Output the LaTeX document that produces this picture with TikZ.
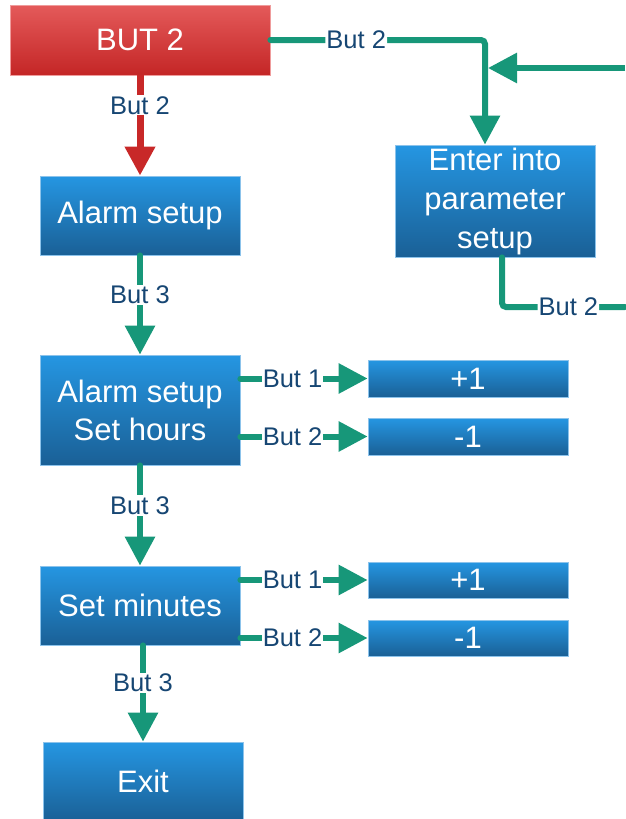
\documentclass[tikz,border=0pt]{standalone}
\usepackage{fontspec}
\setmainfont{Liberation Sans}
\usetikzlibrary{positioning, arrows.meta}
\definecolor{bxTop}{RGB}{37, 150, 226}
\definecolor{bxBot}{RGB}{26, 96, 150}
\definecolor{bxEdge}{RGB}{140, 195, 235}
\definecolor{rdTop}{RGB}{228, 90, 90}
\definecolor{rdBot}{RGB}{196, 38, 38}
\definecolor{rdLine}{RGB}{200, 40, 40}
\definecolor{gnLine}{RGB}{23, 151, 121}
\definecolor{lbText}{RGB}{22, 70, 115}
\tikzset{
    base/.style={
        font=\fontsize{31}{38}\selectfont,
        align=center,
        text=white,
        inner sep=0pt
    },
    stage/.style={
        base,
        rectangle,
        top color=bxTop,
        bottom color=bxBot,
        draw=bxEdge,
        line width=0.8pt,
        minimum width=200pt
    },
    trigger/.style={
        stage,
        top color=rdTop,
        bottom color=rdBot,
        draw=rdTop!60!white,
        minimum width=260pt
    },
    flow/.style={
        -{Triangle[length=29pt, width=29pt]},
        line width=6pt,
        color=gnLine,
        line cap=round
    },
    redflow/.style={
        flow,
        color=rdLine,
        line width=7pt,
        line cap=butt
    },
    btnlabel/.style={
        font=\fontsize{25.5}{27}\selectfont,
        text=lbText,
        fill=white,
        inner sep=1pt
    }
}

\begin{document}
\begin{tikzpicture}[x=1pt, y=-1pt]
  \useasboundingbox (0,0) rectangle (625,819);

  % Main column
  \node[trigger, minimum height=70pt] (but2) at (140,40) {BUT 2};
  \node[stage, minimum height=79pt] (alarm) at (140,215.5) {Alarm setup};
  \node[stage, minimum height=110pt] (hours) at (140,410) {Alarm setup\\Set hours};
  \node[stage, minimum height=79pt] (minutes) at (140,605.5) {Set minutes};
  \node[stage, minimum height=79pt] (exit) at (143,781.5) {Exit};

  % Parameter setup
  \node[stage, minimum height=112pt, font=\fontsize{31}{39}\selectfont] (enter) at (495,201) {Enter into\\parameter\\setup};

  % Adjust boxes
  \node[stage, minimum height=37pt] (hplus) at (468,378.5) {+1};
  \node[stage, minimum height=37pt] (hminus) at (468,436.5) {-1};
  \node[stage, minimum height=36pt] (mplus) at (468,580) {+1};
  \node[stage, minimum height=36pt] (mminus) at (468,638) {-1};

  % Down the column
  \draw[redflow] (but2.south) -- node[btnlabel, pos=0.3] {But 2} (alarm.north);
  \draw[flow] (alarm.south) -- node[btnlabel, pos=0.4] {But 3} (hours.north);
  \draw[flow] (hours.south) -- node[btnlabel, pos=0.4] {But 3} (minutes.north);
  \draw[flow] (minutes.south -| exit.north) -- node[btnlabel, pos=0.39] {But 3} (exit.north);

  % Plus / minus
  \draw[flow] (hours.east |- hplus) -- node[btnlabel, pos=0.41] {But 1} (hplus.west);
  \draw[flow] (hours.east |- hminus) -- node[btnlabel, pos=0.41] {But 2} (hminus.west);
  \draw[flow] (minutes.east |- mplus) -- node[btnlabel, pos=0.41] {But 1} (mplus.west);
  \draw[flow] (minutes.east |- mminus) -- node[btnlabel, pos=0.41] {But 2} (mminus.west);

  % Loop on the right
  \coordinate (fromRight) at (625,68);
  \coordinate (merge) at (488,68);
  \coordinate (toRight) at (625,307);
  \draw[flow, rounded corners=4pt] (but2.east) -| node[btnlabel, pos=0.2] {But 2} ([xshift=-10pt]enter.north);
  \draw[flow, line cap=butt] (fromRight) -- (merge);
  \draw[flow, -, rounded corners=4pt] ([xshift=7pt]enter.south) |- node[btnlabel, pos=0.77] {But 2} (toRight);
\end{tikzpicture}
\end{document}
